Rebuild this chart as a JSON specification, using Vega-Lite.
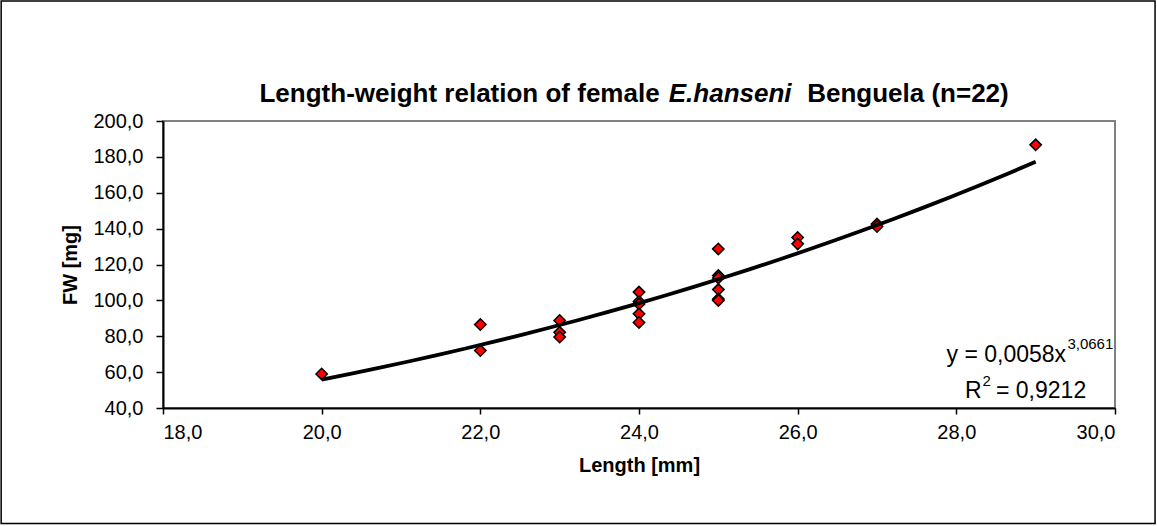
{
  "$schema": "https://vega.github.io/schema/vega-lite/v6.json",
  "autosize": "none",
  "width": 952,
  "height": 287,
  "padding": {"left": 163, "top": 121, "right": 42, "bottom": 118},
  "background": "white",
  "config": {
    "font": "Liberation Sans",
    "view": {"stroke": "#808080", "strokeWidth": 2},
    "axis": {"grid": false, "domainColor": "black", "domainWidth": 2, "tickColor": "black", "tickWidth": 1.5, "labelColor": "black", "titleColor": "black", "labelFont": "Liberation Sans", "titleFont": "Liberation Sans", "labelOverlap": false}
  },
  "datasets": {
    "fw": [
      {"len": 20, "fw": 59.0},
      {"len": 22, "fw": 86.5},
      {"len": 22, "fw": 72.0},
      {"len": 23, "fw": 88.8},
      {"len": 23, "fw": 82.2},
      {"len": 23, "fw": 79.6},
      {"len": 24, "fw": 104.6},
      {"len": 24, "fw": 99.4},
      {"len": 24, "fw": 98.0},
      {"len": 24, "fw": 92.5},
      {"len": 24, "fw": 87.7},
      {"len": 25, "fw": 128.7},
      {"len": 25, "fw": 113.8},
      {"len": 25, "fw": 112.5},
      {"len": 25, "fw": 106.0},
      {"len": 25, "fw": 100.8},
      {"len": 25, "fw": 100.0},
      {"len": 26, "fw": 135.0},
      {"len": 26, "fw": 131.5},
      {"len": 27, "fw": 142.6},
      {"len": 27, "fw": 141.2},
      {"len": 29, "fw": 186.7}
    ],
    "one": [{"k": 1}]
  },
  "layer": [
    {
      "data": {"name": "fw"},
      "mark": {"type": "point", "shape": "diamond", "filled": true, "fill": "#ff0000", "stroke": "black", "strokeWidth": 1.5, "size": 130, "opacity": 1},
      "encoding": {
        "x": {"field": "len", "type": "quantitative", "scale": {"domain": [18, 30], "nice": false, "zero": false},
          "axis": {"title": "Length [mm]", "values": [18, 20, 22, 24, 26, 28, 30], "labelOverlap": false, "labelExpr": "replace(format(datum.value, '.1f'), '.', ',')", "labelFontSize": 20, "labelPadding": 8, "tickSize": 6, "titleFontSize": 20, "titleFontWeight": "bold", "titlePadding": 13}},
        "y": {"field": "fw", "type": "quantitative", "scale": {"domain": [40, 200], "nice": false, "zero": false},
          "axis": {"title": "FW [mg]", "values": [40, 60, 80, 100, 120, 140, 160, 180, 200], "tickCount": 9, "labelOverlap": false, "labelExpr": "replace(format(datum.value, '.1f'), '.', ',')", "labelFontSize": 20, "labelPadding": 13, "tickSize": 7, "titleFontSize": 20, "titleFontWeight": "bold", "titlePadding": 12}}
      }
    },
    {
      "data": {"name": "fw"},
      "transform": [{"regression": "fw", "on": "len", "method": "pow", "extent": [20, 29]}],
      "mark": {"type": "line", "color": "black", "strokeWidth": 3.8},
      "encoding": {
        "x": {"field": "len", "type": "quantitative", "title": "Length [mm]"},
        "y": {"field": "fw", "type": "quantitative", "title": "FW [mg]"}
      }
    },
    {
      "data": {"name": "one"},
      "mark": {"type": "rect", "fill": null, "stroke": "black", "strokeWidth": 1.5, "clip": false},
      "encoding": {
        "x": {"datum": 15.96, "type": "quantitative", "title": "Length [mm]"},
        "x2": {"datum": 30.505},
        "y": {"datum": 266.9, "type": "quantitative", "title": "FW [mg]"},
        "y2": {"datum": -24.4}
      }
    },
    {
      "data": {"name": "one"},
      "mark": {"type": "text", "text": "Length-weight relation of female", "align": "right", "baseline": "alphabetic", "fontSize": 26, "fontWeight": "bold", "color": "black"},
      "encoding": {"x": {"datum": 24.26, "type": "quantitative", "title": "Length [mm]"}, "y": {"datum": 210.8, "type": "quantitative", "title": "FW [mg]"}}
    },
    {
      "data": {"name": "one"},
      "mark": {"type": "text", "text": "E.hanseni", "align": "left", "baseline": "alphabetic", "fontSize": 26, "fontWeight": "bold", "fontStyle": "italic", "color": "black"},
      "encoding": {"x": {"datum": 24.375, "type": "quantitative", "title": "Length [mm]"}, "y": {"datum": 210.8, "type": "quantitative", "title": "FW [mg]"}}
    },
    {
      "data": {"name": "one"},
      "mark": {"type": "text", "text": "Benguela (n=22)", "align": "left", "baseline": "alphabetic", "fontSize": 26, "fontWeight": "bold", "color": "black"},
      "encoding": {"x": {"datum": 26.12, "type": "quantitative", "title": "Length [mm]"}, "y": {"datum": 210.8, "type": "quantitative", "title": "FW [mg]"}}
    },
    {
      "data": {"name": "one"},
      "mark": {"type": "text", "text": "y = 0,0058x", "align": "right", "baseline": "alphabetic", "fontSize": 23, "color": "black"},
      "encoding": {"x": {"datum": 29.383, "type": "quantitative", "title": "Length [mm]"}, "y": {"datum": 65.4, "type": "quantitative", "title": "FW [mg]"}}
    },
    {
      "data": {"name": "one"},
      "mark": {"type": "text", "text": "3,0661", "align": "left", "baseline": "alphabetic", "fontSize": 15, "color": "black"},
      "encoding": {"x": {"datum": 29.40, "type": "quantitative", "title": "Length [mm]"}, "y": {"datum": 72.8, "type": "quantitative", "title": "FW [mg]"}}
    },
    {
      "data": {"name": "one"},
      "mark": {"type": "text", "text": "R", "align": "left", "baseline": "alphabetic", "fontSize": 23, "color": "black"},
      "encoding": {"x": {"datum": 28.11, "type": "quantitative", "title": "Length [mm]"}, "y": {"datum": 45.6, "type": "quantitative", "title": "FW [mg]"}}
    },
    {
      "data": {"name": "one"},
      "mark": {"type": "text", "text": "2", "align": "left", "baseline": "alphabetic", "fontSize": 15, "color": "black"},
      "encoding": {"x": {"datum": 28.33, "type": "quantitative", "title": "Length [mm]"}, "y": {"datum": 52.5, "type": "quantitative", "title": "FW [mg]"}}
    },
    {
      "data": {"name": "one"},
      "mark": {"type": "text", "text": "= 0,9212", "align": "left", "baseline": "alphabetic", "fontSize": 23, "color": "black"},
      "encoding": {"x": {"datum": 28.50, "type": "quantitative", "title": "Length [mm]"}, "y": {"datum": 45.6, "type": "quantitative", "title": "FW [mg]"}}
    }
  ]
}
